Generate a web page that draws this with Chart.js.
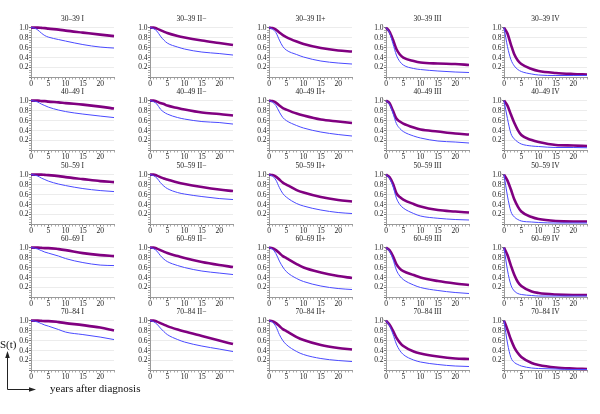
<!DOCTYPE html>
<html>
<head>
<meta charset="utf-8">
<script src="https://cdn.jsdelivr.net/npm/chart.js@4/dist/chart.umd.min.js"></script>
<style>
  html,body{margin:0;padding:0;background:#fff;}
  #wrap{position:relative;width:600px;height:414px;overflow:hidden;background:#fff;}
  canvas{position:absolute;}
  .lbl{position:absolute;font-family:'Liberation Serif','Times New Roman',serif;color:#111;white-space:nowrap;}
</style>
</head>
<body>
<div id="wrap"></div>
<script>
// ---- data ----
const years = [0, 1, 2, 3, 4, 5, 8, 10, 15, 20, 24];
const ageGroups = ['30–39', '40–49', '50–59', '60–69', '70–84'];
const stages = ['I', 'II−', 'II+', 'III', 'IV'];

// thick purple curves, one row per stage (I, II−, II+, III, IV)
const purple_30_39 = [
  [1.00, 1.00, 1.00, 0.995, 0.99, 0.98, 0.96, 0.94, 0.90, 0.86, 0.83],
  [1.00, 1.00, 0.98, 0.95, 0.92, 0.89, 0.83, 0.80, 0.74, 0.69, 0.65],
  [1.00, 0.99, 0.96, 0.90, 0.85, 0.81, 0.72, 0.67, 0.59, 0.54, 0.52],
  [1.00, 0.92, 0.76, 0.57, 0.46, 0.40, 0.33, 0.30, 0.28, 0.27, 0.25],
  [1.00, 0.88, 0.66, 0.46, 0.34, 0.27, 0.17, 0.13, 0.09, 0.07, 0.06]
];
const blue_30_39 = [
  [1.00, 0.99, 0.95, 0.89, 0.84, 0.81, 0.76, 0.73, 0.66, 0.61, 0.59],
  [1.00, 0.98, 0.93, 0.83, 0.75, 0.69, 0.61, 0.57, 0.51, 0.48, 0.45],
  [1.00, 0.97, 0.90, 0.75, 0.62, 0.55, 0.46, 0.41, 0.33, 0.29, 0.27],
  [1.00, 0.90, 0.68, 0.45, 0.32, 0.25, 0.18, 0.16, 0.13, 0.11, 0.10],
  [1.00, 0.62, 0.36, 0.23, 0.16, 0.12, 0.07, 0.05, 0.04, 0.04, 0.04]
];
const purple_40_49 = [
  [1.00, 1.00, 1.00, 0.99, 0.99, 0.98, 0.965, 0.95, 0.92, 0.88, 0.84],
  [1.00, 1.00, 0.98, 0.95, 0.93, 0.90, 0.85, 0.82, 0.76, 0.73, 0.70],
  [1.00, 0.99, 0.96, 0.90, 0.85, 0.82, 0.74, 0.70, 0.62, 0.58, 0.55],
  [1.00, 0.95, 0.80, 0.64, 0.58, 0.54, 0.46, 0.42, 0.38, 0.34, 0.32],
  [1.00, 0.90, 0.72, 0.55, 0.41, 0.31, 0.21, 0.17, 0.11, 0.10, 0.09]
];
const blue_40_49 = [
  [1.00, 0.99, 0.97, 0.93, 0.90, 0.87, 0.81, 0.78, 0.73, 0.69, 0.66],
  [1.00, 0.98, 0.93, 0.83, 0.77, 0.73, 0.66, 0.63, 0.58, 0.56, 0.53],
  [1.00, 0.97, 0.90, 0.77, 0.66, 0.60, 0.50, 0.45, 0.37, 0.32, 0.29],
  [1.00, 0.93, 0.75, 0.54, 0.44, 0.38, 0.29, 0.25, 0.19, 0.17, 0.15],
  [1.00, 0.64, 0.34, 0.23, 0.17, 0.13, 0.09, 0.08, 0.06, 0.06, 0.055]
];
const purple_50_59 = [
  [1.00, 1.00, 1.00, 1.00, 0.995, 0.99, 0.97, 0.95, 0.91, 0.87, 0.85],
  [1.00, 1.00, 0.98, 0.95, 0.92, 0.90, 0.84, 0.81, 0.75, 0.70, 0.67],
  [1.00, 0.99, 0.96, 0.90, 0.84, 0.80, 0.69, 0.64, 0.55, 0.49, 0.46],
  [1.00, 0.95, 0.82, 0.63, 0.55, 0.50, 0.41, 0.36, 0.29, 0.26, 0.24],
  [1.00, 0.88, 0.70, 0.50, 0.36, 0.26, 0.15, 0.11, 0.07, 0.06, 0.06]
];
const blue_50_59 = [
  [1.00, 0.99, 0.97, 0.93, 0.90, 0.87, 0.81, 0.78, 0.72, 0.68, 0.66],
  [1.00, 0.98, 0.93, 0.84, 0.77, 0.72, 0.64, 0.61, 0.56, 0.52, 0.50],
  [1.00, 0.97, 0.89, 0.74, 0.62, 0.55, 0.42, 0.37, 0.29, 0.24, 0.22],
  [1.00, 0.93, 0.77, 0.53, 0.40, 0.33, 0.22, 0.17, 0.125, 0.10, 0.09],
  [1.00, 0.57, 0.26, 0.15, 0.10, 0.07, 0.05, 0.04, 0.03, 0.03, 0.03]
];
const purple_60_69 = [
  [1.00, 1.00, 1.00, 0.995, 0.99, 0.99, 0.97, 0.95, 0.89, 0.85, 0.83],
  [1.00, 1.00, 0.98, 0.95, 0.92, 0.89, 0.83, 0.79, 0.71, 0.65, 0.61],
  [1.00, 0.99, 0.95, 0.89, 0.83, 0.79, 0.67, 0.60, 0.50, 0.43, 0.39],
  [1.00, 0.95, 0.83, 0.67, 0.58, 0.53, 0.45, 0.40, 0.33, 0.28, 0.25],
  [1.00, 0.85, 0.64, 0.45, 0.31, 0.23, 0.12, 0.09, 0.06, 0.05, 0.05]
];
const blue_60_69 = [
  [1.00, 0.99, 0.97, 0.94, 0.91, 0.89, 0.83, 0.78, 0.70, 0.65, 0.64],
  [1.00, 0.98, 0.93, 0.84, 0.77, 0.72, 0.64, 0.60, 0.53, 0.49, 0.46],
  [1.00, 0.97, 0.88, 0.73, 0.61, 0.52, 0.38, 0.32, 0.23, 0.18, 0.16],
  [1.00, 0.93, 0.77, 0.55, 0.43, 0.36, 0.25, 0.20, 0.14, 0.10, 0.08],
  [1.00, 0.55, 0.25, 0.13, 0.08, 0.06, 0.04, 0.03, 0.03, 0.03, 0.03]
];
const purple_70_84 = [
  [1.00, 1.00, 1.00, 0.995, 0.99, 0.99, 0.97, 0.95, 0.91, 0.86, 0.80],
  [1.00, 1.00, 0.98, 0.95, 0.92, 0.89, 0.82, 0.78, 0.69, 0.60, 0.53],
  [1.00, 0.99, 0.95, 0.89, 0.83, 0.79, 0.67, 0.61, 0.51, 0.45, 0.42],
  [1.00, 0.92, 0.80, 0.66, 0.56, 0.49, 0.38, 0.34, 0.28, 0.24, 0.23],
  [1.00, 0.82, 0.62, 0.46, 0.35, 0.27, 0.15, 0.11, 0.06, 0.04, 0.03]
];
const blue_70_84 = [
  [1.00, 0.99, 0.97, 0.94, 0.91, 0.89, 0.82, 0.77, 0.72, 0.67, 0.62],
  [1.00, 0.98, 0.93, 0.85, 0.78, 0.72, 0.62, 0.57, 0.49, 0.43, 0.38],
  [1.00, 0.97, 0.88, 0.72, 0.60, 0.52, 0.38, 0.32, 0.24, 0.20, 0.18],
  [1.00, 0.90, 0.73, 0.53, 0.40, 0.32, 0.21, 0.17, 0.12, 0.09, 0.08],
  [1.00, 0.55, 0.26, 0.16, 0.12, 0.09, 0.05, 0.04, 0.03, 0.02, 0.02]
];

const purpleByAge = [purple_30_39, purple_40_49, purple_50_59, purple_60_69, purple_70_84];
const blueByAge = [blue_30_39, blue_40_49, blue_50_59, blue_60_69, blue_70_84];

// ---- layout ----
const colPlotLeft = [30.7, 149.5, 268.5, 386, 504.3];
const rowPlotTop0 = 27.3, rowPitch = 73.4;
const Y_AXIS_W = 22, PLOT_W = 83, PLOT_H = 50, TITLE_H = 14.5, X_AXIS_H = 10.5, RIGHT_PAD = 6;
const FONT = "'Liberation Serif','Times New Roman',serif";
const PURPLE = '#800080', BLUE = '#4a4aff', AXIS = '#9a9a9a', GRID = '#ececec', TEXT = '#222';

const wrap = document.getElementById('wrap');

function pts(vals) { return years.map((t, i) => ({ x: t, y: vals[i] })); }

ageGroups.forEach((age, r) => {
  stages.forEach((stage, c) => {
    const cv = document.createElement('canvas');
    const W = Y_AXIS_W + PLOT_W + RIGHT_PAD;
    const H = Math.round(TITLE_H + PLOT_H + X_AXIS_H);
    cv.width = W; cv.height = H;
    cv.style.width = W + 'px'; cv.style.height = H + 'px';
    cv.style.left = Math.round(colPlotLeft[c] - Y_AXIS_W) + 'px';
    cv.style.top = Math.round(rowPlotTop0 + r * rowPitch - TITLE_H) + 'px';
    wrap.appendChild(cv);

    new Chart(cv, {
      type: 'line',
      data: {
        datasets: [
          { data: pts(blueByAge[r][c]), borderColor: BLUE, borderWidth: 1, pointRadius: 0,
            cubicInterpolationMode: 'monotone', clip: false },
          { data: pts(purpleByAge[r][c]), borderColor: PURPLE, borderWidth: 2.6, pointRadius: 0,
            cubicInterpolationMode: 'monotone', clip: false }
        ]
      },
      options: {
        responsive: false, animation: false, devicePixelRatio: 1,
        events: [],
        layout: { padding: { left: 0, right: RIGHT_PAD, top: 0, bottom: 0 } },
        plugins: {
          legend: { display: false },
          tooltip: { enabled: false },
          title: {
            display: true, text: age + ' ' + stage, fullSize: false,
            color: TEXT, font: { family: FONT, size: 7.5, weight: 'normal', lineHeight: 1.2 },
            padding: { top: 1.5, bottom: 4.1 }
          }
        },
        scales: {
          x: {
            type: 'linear', min: 0, max: 24,
            ticks: {
              stepSize: 1, autoSkip: false, maxRotation: 0, padding: 0.5,
              color: TEXT, font: { family: FONT, size: 7.5 },
              callback: v => (v % 5 === 0 ? String(v) : '')
            },
            grid: { drawOnChartArea: false, tickLength: 2,
                    tickColor: ctx => (ctx.tick && ctx.tick.value % 5 === 0 ? '#777' : '#aaa') },
            border: { color: AXIS, width: 1 },
            afterFit: s => { s.height = X_AXIS_H; }
          },
          y: {
            min: 0, max: 1,
            ticks: {
              stepSize: 0.05, autoSkip: false, padding: 0.5,
              color: TEXT, font: { family: FONT, size: 7.5 },
              callback: v => {
                const k = Math.round(v * 100);
                return (k > 0 && k % 20 === 0) ? (k / 100).toFixed(1) : '';
              }
            },
            grid: {
              tickLength: 2,
              color: ctx => {
                const k = ctx.tick ? Math.round(ctx.tick.value * 100) : 0;
                return (k > 0 && k % 20 === 0) ? GRID : 'rgba(0,0,0,0)';
              },
              tickColor: ctx => {
                const k = ctx.tick ? Math.round(ctx.tick.value * 100) : 0;
                return (k % 20 === 0) ? '#777' : '#aaa';
              }
            },
            border: { color: AXIS, width: 1 },
            afterFit: s => { s.width = Y_AXIS_W; }
          }
        }
      }
    });
  });
});

// ---- axis annotation (bottom left) ----
const st = document.createElement('div');
st.className = 'lbl'; st.textContent = 'S(t)';
st.style.left = '0px'; st.style.top = '338px'; st.style.fontSize = '11px';
wrap.appendChild(st);

const yd = document.createElement('div');
yd.className = 'lbl'; yd.textContent = 'years after diagnosis';
yd.style.left = '50px'; yd.style.top = '382px'; yd.style.fontSize = '11px';
wrap.appendChild(yd);

const svgNS = 'http://www.w3.org/2000/svg';
const svg = document.createElementNS(svgNS, 'svg');
svg.setAttribute('width', '600'); svg.setAttribute('height', '414');
svg.style.position = 'absolute'; svg.style.left = '0'; svg.style.top = '0';
svg.innerHTML =
  '<line x1="7.5" y1="389.5" x2="7.5" y2="356" stroke="#222" stroke-width="1"/>' +
  '<polygon points="7.5,351 5.2,358 9.8,358" fill="#222"/>' +
  '<line x1="7.5" y1="389.5" x2="31" y2="389.5" stroke="#222" stroke-width="1"/>' +
  '<polygon points="36,389.5 29,387.2 29,391.8" fill="#222"/>';
wrap.appendChild(svg);
</script>
</body>
</html>
